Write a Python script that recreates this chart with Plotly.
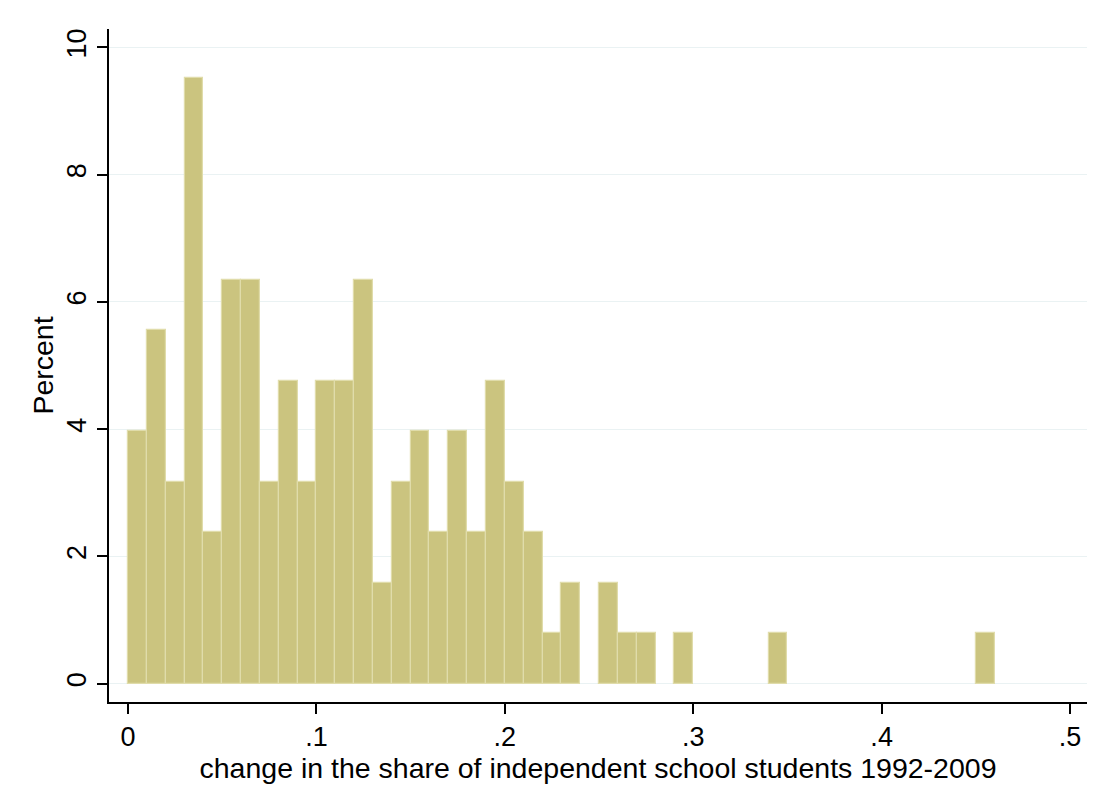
import plotly.graph_objects as go

# Histogram bins (left edges) and percent of observations in each bin
bin_left = [0.00, 0.01, 0.02, 0.03, 0.04, 0.05, 0.06, 0.07, 0.08, 0.09,
            0.10, 0.11, 0.12, 0.13, 0.14, 0.15, 0.16, 0.17, 0.18, 0.19,
            0.20, 0.21, 0.22, 0.23, 0.25, 0.26, 0.27, 0.29, 0.34, 0.45]
percent = [3.97, 5.56, 3.17, 9.52, 2.38, 6.35, 6.35, 3.17, 4.76, 3.17,
           4.76, 4.76, 6.35, 1.59, 3.17, 3.97, 2.38, 3.97, 2.38, 4.76,
           3.17, 2.38, 0.79, 1.59, 1.59, 0.79, 0.79, 0.79, 0.79, 0.79]
bin_width = 0.01

x_tickvals = [0, 0.1, 0.2, 0.3, 0.4, 0.5]
x_ticktext = ["0", ".1", ".2", ".3", ".4", ".5"]
y_tickvals = [0, 2, 4, 6, 8, 10]
y_ticktext = ["0", "2", "4", "6", "8", "10"]

x_title = "change in the share of independent school students 1992-2009"
y_title = "Percent"

FONT = "Liberation Sans, Arial, sans-serif"
FS = 27
FT = 28.5

fig = go.Figure()
fig.add_trace(go.Bar(
    x=[b + bin_width / 2 for b in bin_left],
    y=percent,
    width=bin_width,
    marker=dict(color="rgb(203,196,127)",
                line=dict(color="rgb(224,220,170)", width=1.2)),
    showlegend=False,
    hoverinfo="x+y",
))

fig.update_layout(
    width=1109, height=804,
    margin=dict(l=101, r=30, t=21, b=110, pad=0),
    paper_bgcolor="white", plot_bgcolor="white",
    font=dict(family=FONT, size=FS, color="black"),
    bargap=0,
)
fig.update_xaxes(
    range=[-0.0101, 0.509],
    tickvals=x_tickvals, ticktext=x_ticktext,
    showgrid=False, zeroline=False,
    showline=True, linecolor="black", linewidth=1.5,
    ticks="outside", ticklen=10, tickwidth=1.5, tickcolor="black",
    tickfont=dict(size=FS),
    automargin=False,
    title=dict(text=x_title, font=dict(size=FT), standoff=0),
)
fig.update_yaxes(
    range=[-0.288, 10.29],
    tickvals=y_tickvals, ticktext=y_ticktext,
    tickangle=-90,
    showgrid=True, gridcolor="rgb(234,242,243)", gridwidth=1,
    zeroline=False,
    showline=True, linecolor="black", linewidth=1.5,
    ticks="outside", ticklen=10, tickwidth=1.5, tickcolor="black",
    tickfont=dict(size=FS),
    automargin=False,
    title=dict(text=y_title, font=dict(size=FT), standoff=0),
)

fig.write_html("out.html")
